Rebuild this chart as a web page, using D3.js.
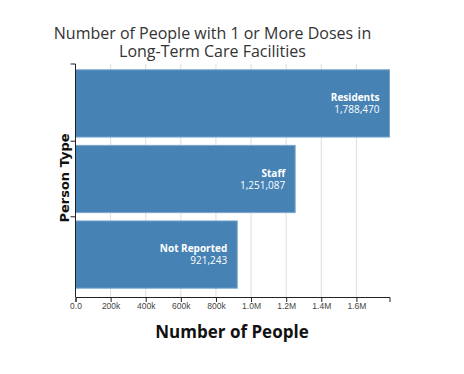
<!DOCTYPE html>
<html>
<head>
<meta charset="utf-8">
<script src="https://cdn.jsdelivr.net/npm/d3@7"></script>
<style>
  body { margin: 0; background: #fff; }
  svg { display: block; }
</style>
</head>
<body>
<svg id="chart"></svg>
<script>
const personTypes = ['Residents', 'Staff', 'Not Reported'];
const doses = [1788470, 1251087, 921243];
const xTicks = [0, 200000, 400000, 600000, 800000, 1000000, 1200000, 1400000, 1600000];
const titleLines = ['Number of People with 1 or More Doses in', 'Long-Term Care Facilities'];

const width = 464;
const height = 374;
const plotLeft = 75.5;
const plotRight = 389.5;
const plotTop = 64;
const plotBottom = 297;

const svg = d3.select('#chart')
    .attr('width', width)
    .attr('height', height);

const x = d3.scaleLinear()
    .domain([0, d3.max(doses)])
    .range([plotLeft, plotRight]);

const y = d3.scaleBand()
    .domain(personTypes)
    .range([63, 295])
    .paddingInner(0.11)
    .paddingOuter(0.09);

// grid
svg.append('g').selectAll('line').data(xTicks).enter()
    .append('line')
    .attr('x1', d => x(d)).attr('x2', d => x(d))
    .attr('y1', plotTop).attr('y2', plotBottom)
    .attr('stroke', '#ddd');

// bars
const rows = personTypes.map((t, i) => ({ type: t, value: doses[i] }));

svg.append('g').selectAll('rect').data(rows).enter()
    .append('rect')
    .attr('x', x(0))
    .attr('y', d => y(d.type))
    .attr('width', d => x(d.value) - x(0))
    .attr('height', y.bandwidth())
    .attr('fill', '#4682b4')
    .attr('stroke', '#7aa6cf')
    .attr('stroke-width', 1);

const labels = svg.append('g')
    .attr('font-family', 'Open Sans')
    .attr('font-size', '10px')
    .attr('fill', '#fff')
    .attr('text-anchor', 'end');

labels.selectAll('text.name').data(rows).enter()
    .append('text')
    .attr('class', 'name')
    .attr('font-weight', 'bold')
    .attr('x', d => x(d.value) - 10)
    .attr('y', d => y(d.type) + y.bandwidth() / 2 - 2.5)
    .text(d => d.type);

labels.selectAll('text.val').data(rows).enter()
    .append('text')
    .attr('class', 'val')
    .attr('x', d => x(d.value) - 10)
    .attr('y', d => y(d.type) + y.bandwidth() / 2 + 9.5)
    .text(d => d3.format(',')(d.value));

// x axis
const xAxis = svg.append('g')
    .attr('transform', `translate(0,${plotBottom})`)
    .call(d3.axisBottom(x).tickValues(xTicks).tickFormat(d3.format('.2s')).tickSize(5).tickSizeOuter(5));
xAxis.select('.domain').attr('stroke', '#222');
xAxis.selectAll('.tick line').attr('stroke', '#222');
xAxis.selectAll('.tick text')
    .attr('font-family', 'Liberation Sans')
    .attr('font-size', '8.5px')
    .attr('fill', '#444')
    .attr('dy', '0.5em');

// y axis (ticks at band edges, no labels)
const edges = personTypes.slice(1).map(t => y(t) - y.step() * y.paddingInner() / 2);
const yAxis = svg.append('g');
yAxis.append('path')
    .attr('d', `M${plotLeft - 5},${plotTop}H${plotLeft}V${plotBottom}`)
    .attr('fill', 'none')
    .attr('stroke', '#222');
yAxis.selectAll('line').data(edges).enter()
    .append('line')
    .attr('x1', plotLeft - 5).attr('x2', plotLeft)
    .attr('y1', d => d).attr('y2', d => d)
    .attr('stroke', '#222');

// titles
svg.append('text')
    .attr('font-family', 'Open Sans')
    .attr('font-size', '16px')
    .attr('fill', '#333')
    .attr('text-anchor', 'middle')
    .selectAll('tspan').data(titleLines).enter()
    .append('tspan')
    .attr('x', 212.5)
    .attr('y', (d, i) => 38.5 + i * 18.5)
    .text(d => d);

svg.append('text')
    .attr('font-family', 'Open Sans')
    .attr('font-weight', 'bold')
    .attr('font-size', '17px')
    .attr('fill', '#111')
    .attr('text-anchor', 'middle')
    .attr('x', 232)
    .attr('y', 337.5)
    .text('Number of People');

svg.append('text')
    .attr('font-family', 'DejaVu Sans')
    .attr('font-weight', 'bold')
    .attr('font-size', '13px')
    .attr('fill', '#111')
    .attr('text-anchor', 'middle')
    .attr('transform', 'translate(68.5,178) rotate(-90)')
    .text('Person Type');
</script>
</body>
</html>
